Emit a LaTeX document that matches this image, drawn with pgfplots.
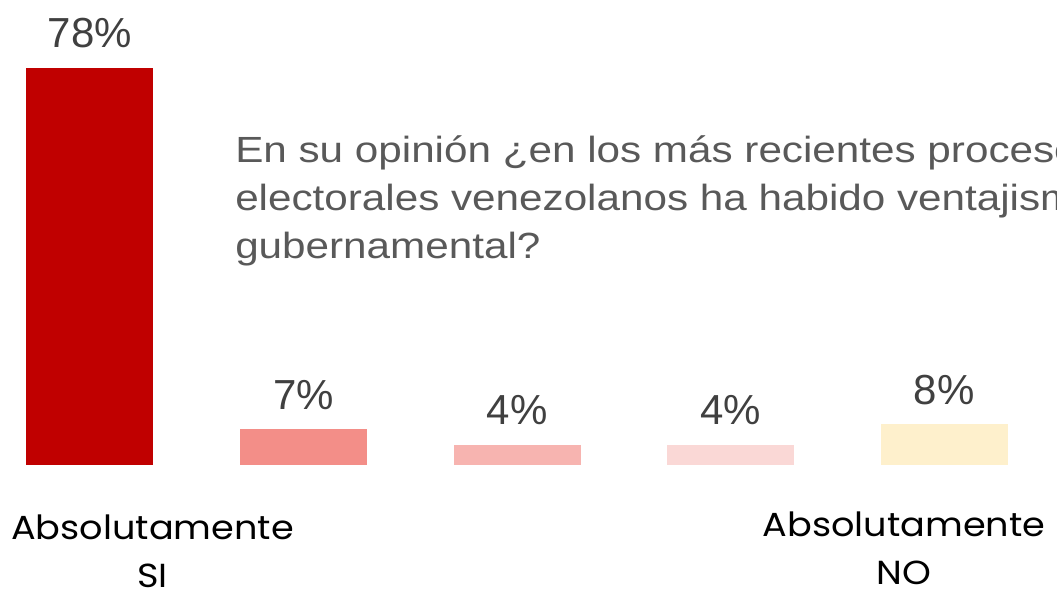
\documentclass[border=0pt]{standalone}
\usepackage{fontspec}
\setmainfont{Liberation Sans}
\newfontfamily\qfont[FakeStretch=1.16]{Liberation Sans}
\newfontfamily\gothic[FakeStretch=1.1]{Poppins}
\usepackage{pgfplots}
\pgfplotsset{compat=1.18}
\definecolor{c1}{HTML}{C00000}
\definecolor{c2}{HTML}{F38E88}
\definecolor{c3}{HTML}{F7B4B0}
\definecolor{c4}{HTML}{FAD8D6}
\definecolor{c5}{HTML}{FEF0CC}
\definecolor{numtxt}{HTML}{404040}
\definecolor{qtxt}{HTML}{595959}
\begin{document}
\begin{tikzpicture}[x=0.75pt,y=0.75pt]
\useasboundingbox (0,0) rectangle (1057,589);
\clip (0,0) rectangle (1057,589);
\begin{axis}[
  at={(0pt,93pt)}, anchor=south west,
  scale only axis, width=792.75pt, height=348.75pt,
  xmin=-0.4215, xmax=4.529, ymin=0, ymax=91.35,
  axis lines=none, clip=false,
  /pgf/number format/assume math mode=true,
  every node near coord/.append style={font=\fontsize{31.5}{36}\selectfont, text=numtxt, anchor=base, yshift=15pt},
  nodes near coords={\pgfmathprintnumber{\pgfplotspointmeta}\%},
]
\addplot[ybar, bar shift=0pt, bar width=95.25pt, fill=c1, draw=none] coordinates {(0,78)};
\addplot[ybar, bar shift=0pt, bar width=95.25pt, fill=c2, draw=none] coordinates {(1,7)};
\addplot[ybar, bar shift=0pt, bar width=95.25pt, fill=c3, draw=none] coordinates {(2,4)};
\addplot[ybar, bar shift=0pt, bar width=95.25pt, fill=c4, draw=none] coordinates {(3,4)};
\addplot[ybar, bar shift=0pt, bar width=95.25pt, fill=c5, draw=none] coordinates {(4,8)};
\end{axis}
\node[anchor=base west, align=left, text=qtxt, inner sep=0pt,
  font=\qfont\fontsize{27.3}{36}\selectfont] at (235,330)
  {En su opinión ¿en los más recientes procesos\\electorales venezolanos ha habido ventajismo\\gubernamental?};
\node[anchor=base, align=center, text=black, inner sep=0pt,
  font=\gothic\fontsize{25}{36}\selectfont] at (152.5,1.5) {Absolutamente\\SI};
\node[anchor=base, align=center, text=black, inner sep=0pt,
  font=\gothic\fontsize{25}{36}\selectfont] at (904,4) {Absolutamente\\NO};
\end{tikzpicture}
\end{document}
